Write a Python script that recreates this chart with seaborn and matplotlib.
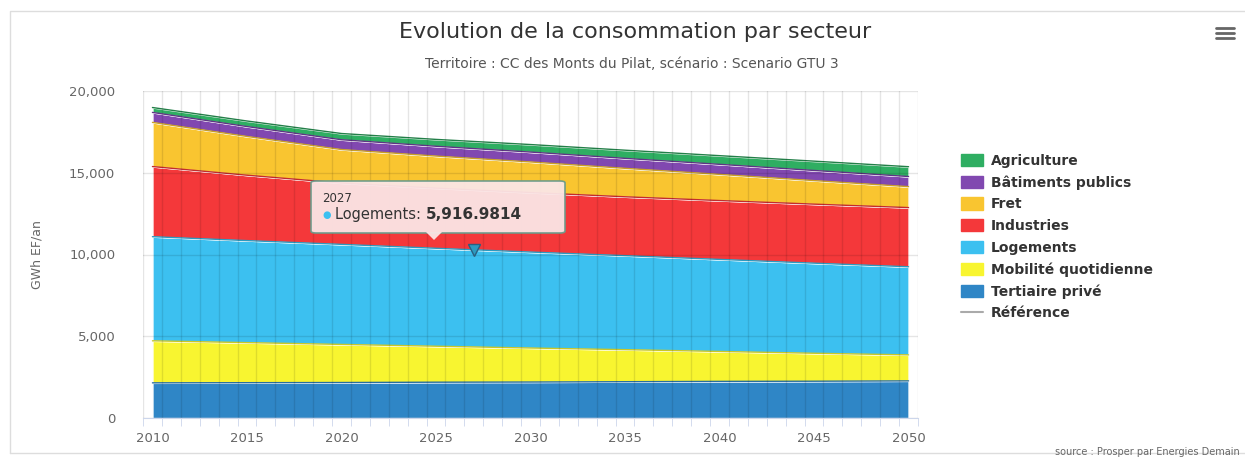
import numpy as np
import pandas as pd
import seaborn as sns
import matplotlib.pyplot as plt
from matplotlib.patches import Patch, FancyBboxPatch, Polygon
from matplotlib.lines import Line2D
from matplotlib.ticker import FuncFormatter

# values (GWh EF/an)
years = [2010, 2015, 2020, 2025, 2030, 2035, 2040, 2045, 2050]
tertiaire = [2150, 2160, 2170, 2190, 2200, 2220, 2240, 2250, 2270]
mobilite = [2570, 2450, 2330, 2200, 2080, 1960, 1830, 1710, 1590]
logements = [6370, 6240, 6120, 5990, 5870, 5750, 5630, 5510, 5390]
industries = [4290, 4000, 3750, 3680, 3640, 3600, 3600, 3610, 3620]
fret = [2700, 2370, 2050, 1960, 1870, 1740, 1600, 1440, 1280]
batiments = [610, 605, 600, 600, 605, 610, 615, 620, 620]
agriculture = [300, 340, 380, 420, 460, 500, 530, 570, 600]

sectors = ["Tertiaire privé", "Mobilité quotidienne", "Logements", "Industries",
           "Fret", "Bâtiments publics", "Agriculture"]
colors = ["#2f86c6", "#f8f530", "#3cc0f0", "#f4383a", "#f9c530", "#8148b0", "#2fae62"]
edges = ["#2a6f9e", "#c9c728", "#2d9ac0", "#c22d2e", "#c99f27", "#5f3585", "#237f48"]

tooltip_year = 2027
tooltip_text = "5,916.9814"

df = pd.DataFrame({"annee": years, "Tertiaire privé": tertiaire,
                   "Mobilité quotidienne": mobilite, "Logements": logements,
                   "Industries": industries, "Fret": fret,
                   "Bâtiments publics": batiments, "Agriculture": agriculture})

sns.set_style("white")
plt.rcParams['font.family'] = ['DejaVu Sans']

fig = plt.figure(figsize=(12.45, 4.59), dpi=100)
ax = fig.add_axes([143 / 1245, 1 - 418 / 459, (918 - 143) / 1245, (418 - 91) / 459])

ax.stackplot(df["annee"], [df[s] for s in sectors], colors=colors, zorder=1)
cum = df[sectors].cumsum(axis=1)
for s, ec in zip(sectors, edges):
    sns.lineplot(x=df["annee"], y=cum[s], color=ec, lw=1, ax=ax, zorder=2)

ax.set_xlim(2009.5, 2050.5)
ax.set_ylim(0, 20000)
ax.set_xticks(range(2010, 2051, 5))
ax.set_xticks(np.arange(2009.5, 2051, 1), minor=True)
ax.set_yticks(range(0, 20001, 5000))
ax.yaxis.set_major_formatter(FuncFormatter(lambda v, p: f"{int(v):,}"))
ax.tick_params(axis="x", which="major", length=0, pad=10, labelsize=9.5, labelcolor="#666666")
ax.tick_params(axis="x", which="minor", length=6, color="#ccd6eb", bottom=True)
ax.tick_params(axis="y", length=0, pad=20, labelsize=9.5, labelcolor="#666666")
ax.grid(True, which="minor", axis="x", color="black", alpha=0.1, lw=1, zorder=3)
ax.grid(True, which="major", axis="y", color="black", alpha=0.1, lw=1, zorder=3)
ax.set_axisbelow(False)
for side in ["top", "right", "left"]:
    ax.spines[side].set_visible(False)
ax.spines["bottom"].set_color("#ccd6eb")
ax.set_xlabel("")
ax.set_ylabel("GWh EF/an", fontsize=9, color="#666666", labelpad=18)

# hovered point + tooltip
i0 = years.index(2025)
i1 = years.index(2030)
t = (tooltip_year - 2025) / 5
ytop = cum["Logements"][i0] * (1 - t) + cum["Logements"][i1] * t
ax.plot([tooltip_year], [ytop], marker="v", ms=9, color="#2d9ac0", mec="#2a5f80", zorder=5)
box = FancyBboxPatch((311 / 1245, 1 - 233 / 459), (565 - 311) / 1245, (233 - 181) / 459,
                     boxstyle="round,pad=0,rounding_size=0.004", transform=fig.transFigure,
                     facecolor="#fbe6e6", edgecolor="#6b9b8a", lw=1.2, alpha=0.95, zorder=10)
fig.patches.append(box)
pointer = Polygon([(426 / 1245, 1 - 232 / 459), (442 / 1245, 1 - 232 / 459), (434 / 1245, 1 - 240 / 459)],
                  closed=True, transform=fig.transFigure, facecolor="#fbe6e6", edgecolor="none",
                  alpha=0.95, zorder=10)
fig.patches.append(pointer)
fig.text(322 / 1245, 1 - 198 / 459, str(tooltip_year), fontsize=8.5, color="#333333", va="center", zorder=11)
fig.text(322 / 1245, 1 - 215 / 459, "●", fontsize=7, color="#3cc0f0", va="center", zorder=11)
lab = fig.text(335 / 1245, 1 - 215 / 459, "Logements: ", fontsize=10.5, color="#333333",
               va="center", zorder=11)
fig.canvas.draw()
bb = lab.get_window_extent(fig.canvas.get_renderer())
fig.text(bb.x1 / fig.bbox.width, 1 - 215 / 459, tooltip_text, fontsize=11, fontweight="bold",
         color="#333333", va="center", zorder=11)

# titles
fig.text(635 / 1245, 1 - 32 / 459, "Evolution de la consommation par secteur", fontsize=16,
         color="#333333", ha="center", va="center")
fig.text(632 / 1245, 1 - 64 / 459, "Territoire : CC des Monts du Pilat, scénario : Scenario GTU 3",
         fontsize=10, color="#555555", ha="center", va="center")
fig.text(1240 / 1245, 1 - 452 / 459, "source : Prosper par Energies Demain", fontsize=7,
         color="#666666", ha="right", va="center")

# legend
handles = [Patch(facecolor=c, edgecolor=c) for c in colors[::-1]]
labels = sectors[::-1]
handles.append(Line2D([0], [0], color="#aaaaaa", lw=1.5))
labels.append("Référence")
leg = fig.legend(handles, labels, loc="upper left", bbox_to_anchor=(948 / 1245, 1 - 141 / 459),
                 frameon=False, prop={"weight": "bold", "size": 10}, handlelength=1.6,
                 handleheight=1.0, handletextpad=0.6, labelspacing=0.55)
for txt in leg.get_texts():
    txt.set_color("#333333")

# outer frame and menu icon
fig.lines.append(Line2D([10 / 1245, 10 / 1245, 1.0], [1 - 453 / 459, 1 - 11 / 459, 1 - 11 / 459],
                        transform=fig.transFigure, color="#dddddd", lw=1))
fig.lines.append(Line2D([10 / 1245, 1.0], [1 - 453 / 459, 1 - 453 / 459],
                        transform=fig.transFigure, color="#dddddd", lw=1))
for yy in (28, 33, 38):
    fig.lines.append(Line2D([1216 / 1245, 1234 / 1245], [1 - yy / 459, 1 - yy / 459],
                            transform=fig.transFigure, color="#666666", lw=2))

plt.savefig("out.png", dpi=100)
